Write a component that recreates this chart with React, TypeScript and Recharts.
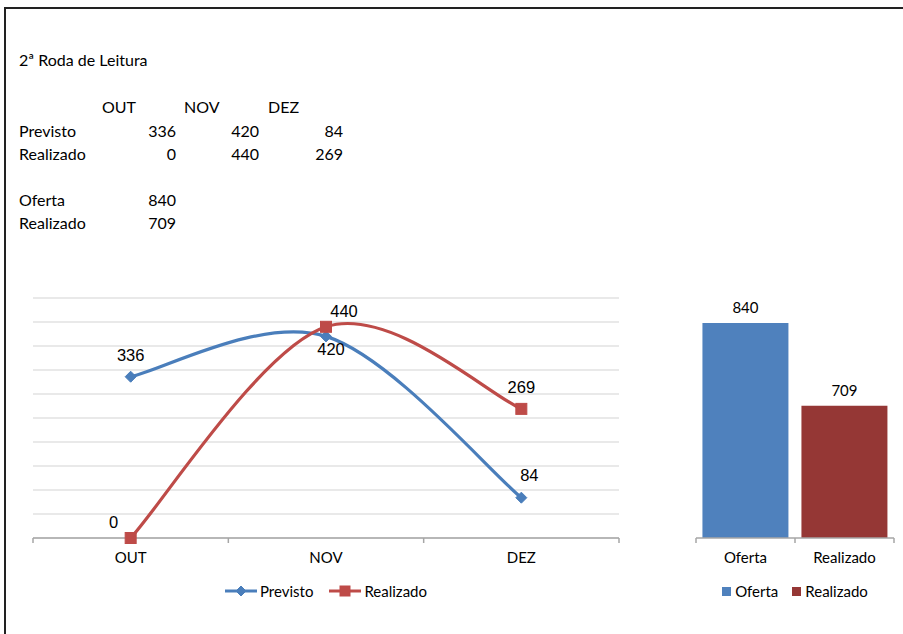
import React from "react";
import { LineChart, Line, BarChart, Bar, Cell, XAxis, YAxis, CartesianGrid, LabelList } from "recharts";

// Monthly reading round figures
const months = ["OUT", "NOV", "DEZ"];
const previsto = [336, 420, 84];
const realizado = [0, 440, 269];

// Totals for the round
const totalNames = ["Oferta", "Realizado"];
const totalValues = [840, 709];

const yTicks = [0, 50, 100, 150, 200, 250, 300, 350, 400, 450, 500];

const BLUE_LINE = "#4a7ebb";
const RED_LINE = "#be4b48";
const BAR_COLORS = ["#4f81bd", "#953735"];
const AXIS_GRAY = "#a6a6a6";
const SHEET_FONT = "Lato, 'Noto Sans', sans-serif";
const LABEL_FONT = "'Liberation Sans', Arial, sans-serif";

const lineData = months.map((month, i) => ({ month, previsto: previsto[i], realizado: realizado[i] }));
const barData = totalNames.map((name, i) => ({ name, value: totalValues[i] }));

// where each value label sits relative to its point
const previstoLabelShift = [[0, -22], [5, 13], [8, -23]];
const realizadoLabelShift = [[-17, -16], [18, -16], [0, -22]];

// Excel-style smoothing: Catmull-Rom segments as cubic beziers
const excelSmooth = (context: any) => {
  let pts: number[][] = [];
  return {
    areaStart() {},
    areaEnd() {},
    lineStart() {
      pts = [];
    },
    point(x: number, y: number) {
      pts.push([+x, +y]);
    },
    lineEnd() {
      if (!pts.length) return;
      context.moveTo(pts[0][0], pts[0][1]);
      for (let i = 0; i < pts.length - 1; i++) {
        const p0 = pts[Math.max(i - 1, 0)];
        const p1 = pts[i];
        const p2 = pts[i + 1];
        const p3 = pts[Math.min(i + 2, pts.length - 1)];
        context.bezierCurveTo(
          p1[0] + (p2[0] - p0[0]) / 6,
          p1[1] + (p2[1] - p0[1]) / 6,
          p2[0] - (p3[0] - p1[0]) / 6,
          p2[1] - (p3[1] - p1[1]) / 6,
          p2[0],
          p2[1]
        );
      }
    },
  };
};

const Diamond = ({ cx, cy, color, r = 5 }: any) => (
  <path d={`M${cx},${cy - r}L${cx + r},${cy}L${cx},${cy + r}L${cx - r},${cy}Z`} fill={color} stroke={color} />
);

const Square = ({ cx, cy, color, s = 11 }: any) => (
  <rect x={cx - s / 2} y={cy - s / 2} width={s} height={s} fill={color} stroke={color} />
);

const pointLabel = (shift: number[][]) => (props: any) => {
  const x = props.x ?? props.viewBox?.x;
  const y = props.y ?? props.viewBox?.y;
  const [dx, dy] = shift[props.index] || [0, -20];
  return (
    <text
      x={x + dx}
      y={y + dy}
      textAnchor="middle"
      dominantBaseline="central"
      fontFamily={LABEL_FONT}
      fontSize={16.5}
      fill="#000"
    >
      {props.value}
    </text>
  );
};

const barLabel = (props: any) => {
  const { x, y, width, value } = props;
  return (
    <text x={x + width / 2} y={y - 16} textAnchor="middle" dominantBaseline="central" fontFamily={SHEET_FONT} fontSize={15} fill="#000">
      {value}
    </text>
  );
};

// category tick: label in the middle, tick marks on the band edges
const BandTick = (props: any) => {
  const { x, y, payload, index, visibleTicksCount, half } = props;
  const last = index === visibleTicksCount - 1;
  return (
    <g>
      <line x1={x - half} x2={x - half} y1={y} y2={y + 5} stroke={AXIS_GRAY} strokeWidth={1.5} />
      {last && <line x1={x + half} x2={x + half} y1={y} y2={y + 5} stroke={AXIS_GRAY} strokeWidth={1.5} />}
      <text x={x} y={y + 25} textAnchor="middle" fontFamily={SHEET_FONT} fontSize={15} fill="#000">
        {payload.value}
      </text>
    </g>
  );
};

const SheetTable = () => {
  const colLeft = [102, 184, 268];
  const colRight = [176, 259, 343];
  const txt = { fontFamily: SHEET_FONT, fontSize: 16, fill: "#000" };
  return (
    <svg width={903} height={240} style={{ position: "absolute", left: 0, top: 0 }}>
      <text x={19} y={66} {...txt}>2ª Roda de Leitura</text>
      {months.map((m, i) => (
        <text key={m} x={colLeft[i]} y={113} {...txt}>{m}</text>
      ))}
      <text x={19} y={137} {...txt}>Previsto</text>
      {previsto.map((v, i) => (
        <text key={"p" + i} x={colRight[i]} y={137} textAnchor="end" {...txt}>{v}</text>
      ))}
      <text x={19} y={160} {...txt}>Realizado</text>
      {realizado.map((v, i) => (
        <text key={"r" + i} x={colRight[i]} y={160} textAnchor="end" {...txt}>{v}</text>
      ))}
      {totalNames.map((n, i) => (
        <React.Fragment key={n}>
          <text x={19} y={206 + i * 23} {...txt}>{n}</text>
          <text x={colRight[0]} y={206 + i * 23} textAnchor="end" {...txt}>{totalValues[i]}</text>
        </React.Fragment>
      ))}
    </svg>
  );
};

const LineLegend = () => (
  <div style={{ position: "absolute", left: 0, top: 582, width: 652, display: "flex", justifyContent: "center", alignItems: "center", gap: 16, fontFamily: SHEET_FONT, fontSize: 15 }}>
    {[
      { name: "Previsto", color: BLUE_LINE, square: false },
      { name: "Realizado", color: RED_LINE, square: true },
    ].map((item) => (
      <div key={item.name} style={{ display: "flex", alignItems: "center", gap: 3 }}>
        <svg width={32} height={14}>
          <line x1={0} x2={32} y1={7} y2={7} stroke={item.color} strokeWidth={3} />
          {item.square ? <Square cx={16} cy={7} s={10} color={item.color} /> : <Diamond cx={16} cy={7} r={5} color={item.color} />}
        </svg>
        <span>{item.name}</span>
      </div>
    ))}
  </div>
);

const BarLegend = () => (
  <div style={{ position: "absolute", left: 696, top: 582, width: 198, display: "flex", justifyContent: "center", alignItems: "center", gap: 14, fontFamily: SHEET_FONT, fontSize: 15 }}>
    {totalNames.map((n, i) => (
      <div key={n} style={{ display: "flex", alignItems: "center", gap: 4 }}>
        <span style={{ display: "inline-block", width: 9, height: 9, background: BAR_COLORS[i] }} />
        <span>{n}</span>
      </div>
    ))}
  </div>
);

export default function App() {
  const lineHalfBand = (619 - 33) / months.length / 2;
  const barHalfBand = (894 - 696) / totalNames.length / 2;
  return (
    <div style={{ position: "absolute", left: 0, top: 0, width: 903, height: 634, background: "#fff", overflow: "hidden" }}>
      <div style={{ position: "absolute", left: 4, top: 7, right: 0, bottom: 0, borderTop: "2px solid #222", borderLeft: "2px solid #222" }} />
      <SheetTable />

      <div style={{ position: "absolute", left: 0, top: 280 }}>
        <LineChart width={640} height={300} data={lineData} margin={{ top: 18, right: 21, left: 33, bottom: 12 }}>
          <CartesianGrid vertical={false} stroke="#e2e2e2" strokeWidth={1.5} />
          <YAxis hide domain={[0, 500]} ticks={yTicks} />
          <XAxis
            dataKey="month"
            scale="band"
            height={30}
            tickSize={0}
            tickMargin={0}
            axisLine={{ stroke: AXIS_GRAY, strokeWidth: 1.5 }}
            tickLine={false}
            interval={0}
            tick={(p: any) => <BandTick {...p} half={lineHalfBand} />}
          />
          <Line
            dataKey="previsto"
            type={excelSmooth as any}
            stroke={BLUE_LINE}
            strokeWidth={3.2}
            isAnimationActive={false}
            dot={(p: any) => <Diamond key={"pd" + p.index} cx={p.cx} cy={p.cy} r={5.5} color={BLUE_LINE} />}
            activeDot={false}
          >
            <LabelList dataKey="previsto" content={pointLabel(previstoLabelShift)} />
          </Line>
          <Line
            dataKey="realizado"
            type={excelSmooth as any}
            stroke={RED_LINE}
            strokeWidth={3.2}
            isAnimationActive={false}
            dot={(p: any) => <Square key={"rd" + p.index} cx={p.cx} cy={p.cy} s={11} color={RED_LINE} />}
            activeDot={false}
          >
            <LabelList dataKey="realizado" content={pointLabel(realizadoLabelShift)} />
          </Line>
        </LineChart>
      </div>
      <LineLegend />

      <div style={{ position: "absolute", left: 650, top: 280 }}>
        <BarChart width={253} height={300} data={barData} margin={{ top: 5, right: 9, left: 46, bottom: 12 }} barCategoryGap="6.5%">
          <YAxis hide domain={[500, 900]} />
          <XAxis
            dataKey="name"
            height={30}
            tickSize={0}
            tickMargin={0}
            axisLine={{ stroke: AXIS_GRAY, strokeWidth: 1.5 }}
            tickLine={false}
            interval={0}
            tick={(p: any) => <BandTick {...p} half={barHalfBand} />}
          />
          <Bar dataKey="value" isAnimationActive={false}>
            {barData.map((d, i) => (
              <Cell key={d.name} fill={BAR_COLORS[i]} />
            ))}
            <LabelList dataKey="value" content={barLabel} />
          </Bar>
        </BarChart>
      </div>
      <BarLegend />
    </div>
  );
}
